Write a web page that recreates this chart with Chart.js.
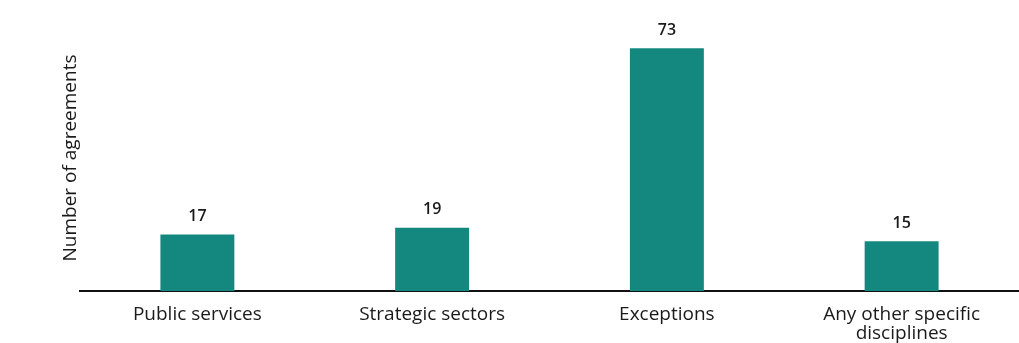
<!DOCTYPE html>
<html>
<head>
<meta charset="utf-8">
<script src="https://cdn.jsdelivr.net/npm/chart.js@4"></script>
<style>
  html, body { margin: 0; padding: 0; background: #fff; }
  #wrap { width: 1019px; height: 343px; }
</style>
</head>
<body>
<div id="wrap"><canvas id="myChart"></canvas></div>
<script>
const categories = [
    'Public services',
    'Strategic sectors',
    'Exceptions',
    ['Any other specific', 'disciplines']
];
const agreements = [17, 19, 73, 15];
const yTitle = 'Number of agreements';

const valueLabels = {
    id: 'valueLabels',
    afterDatasetsDraw(chart) {
        const ctx = chart.ctx;
        ctx.save();
        ctx.font = '600 16px "Open Sans"';
        ctx.fillStyle = '#1a1a1a';
        ctx.textAlign = 'center';
        ctx.textBaseline = 'bottom';
        chart.getDatasetMeta(0).data.forEach(function (bar, i) {
            ctx.fillText(agreements[i], bar.x, bar.y - 10);
        });
        ctx.restore();
    }
};

document.addEventListener("DOMContentLoaded", function () {
const data = {
    labels: categories,
    datasets: [{
        label: yTitle,
        data: agreements,
        backgroundColor: '#14877f',
        barPercentage: 0.315,
        categoryPercentage: 1
    }]
};
const config = {
    type: 'bar',
    data: data,
    options: {
        responsive: true,
        maintainAspectRatio: false,
        animation: false,
        layout: { padding: { top: 25, right: 0, left: 0, bottom: 0 } },
        plugins: {
            legend: { display: false },
            tooltip: { enabled: false }
        },
        scales: {
            x: {
                grid: { display: false },
                border: { color: '#111', width: 2 },
                ticks: {
                    color: '#1a1a1a',
                    font: { family: 'Open Sans', size: 19, lineHeight: 1.0 },
                    padding: 6,
                    maxRotation: 0
                },
                afterFit: function (s) { s.height = 52; }
            },
            y: {
                min: 0,
                max: 80,
                grid: { display: false },
                border: { display: false },
                ticks: { display: false },
                title: {
                    display: true,
                    text: yTitle,
                    color: '#1a1a1a',
                    font: { family: 'Open Sans', size: 19 },
                    padding: { top: 59, bottom: 0 }
                },
                afterFit: function (s) { s.width = 80; }
            }
        }
    },
    plugins: [valueLabels]
};
var myChart = new Chart(document.getElementById('myChart'), config);
});
</script>
</body>
</html>
